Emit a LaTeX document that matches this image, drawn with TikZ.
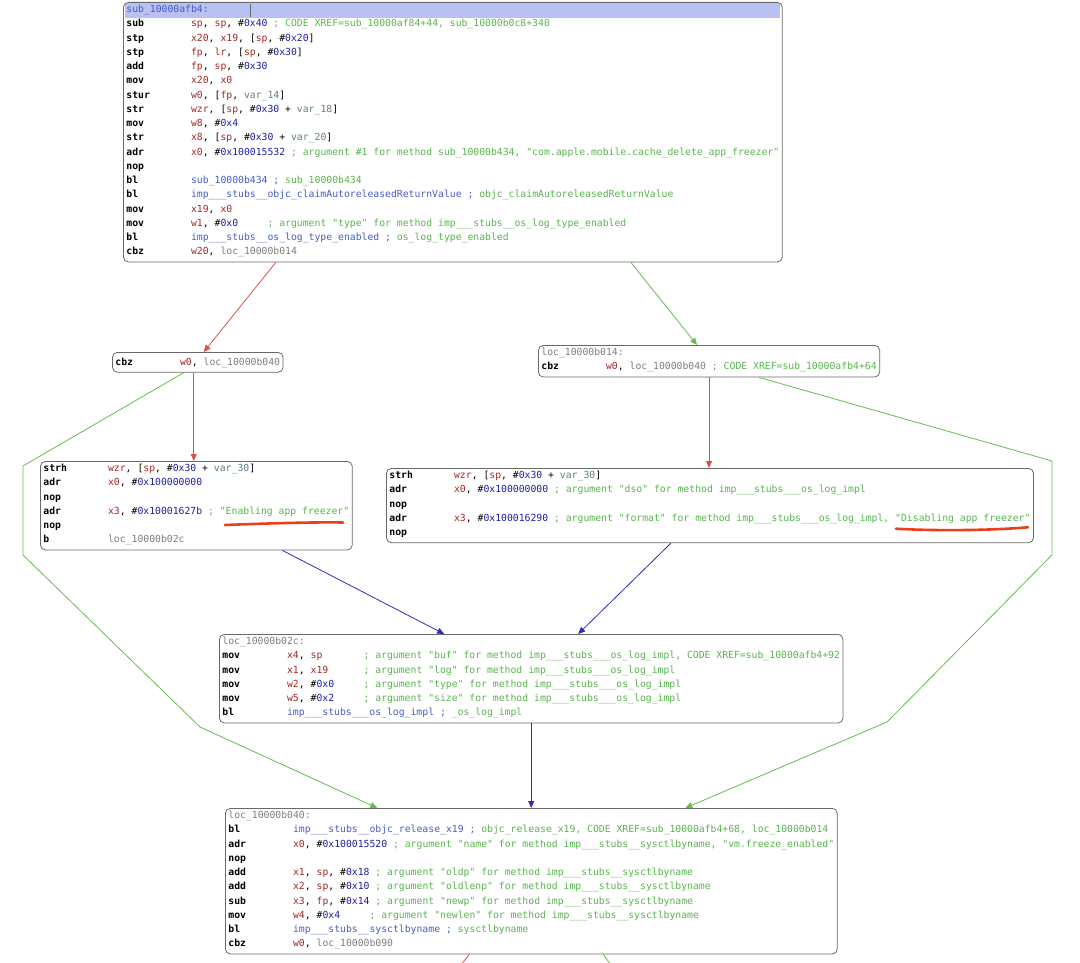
\documentclass[tikz,border=0pt]{standalone}
\usepackage{fontspec}
\setmonofont{DejaVu Sans Mono}
\usetikzlibrary{arrows.meta}

\definecolor{boxgray}{RGB}{105,105,105}
\definecolor{hilite}{RGB}{185,193,242}
\definecolor{regred}{RGB}{165,38,38}
\definecolor{numblue}{RGB}{30,30,165}
\definecolor{fnblue}{RGB}{72,92,200}
\definecolor{cmtgreen}{RGB}{88,180,78}
\definecolor{lblgray}{RGB}{125,125,125}
\definecolor{vargray}{RGB}{95,125,135}
\definecolor{edgered}{RGB}{212,85,70}
\definecolor{edgegreen}{RGB}{100,188,78}
\definecolor{edgeblue}{RGB}{45,45,185}
\definecolor{markred}{RGB}{236,62,28}

\newlength\chw
\setlength\chw{5.882pt}
\newcommand\asmop[1]{\makebox[11\chw][l]{\textbf{#1}}}
\newcommand\asmpad[2]{\makebox[#1\chw][l]{#2}}
\newcommand\asmreg[1]{\textcolor{regred}{#1}}
\newcommand\asmnum[1]{\#\textcolor{numblue}{#1}}
\newcommand\asmvar[1]{\textcolor{vargray}{#1}}
\newcommand\asmcmt[1]{\textcolor{cmtgreen}{\relax#1}}
\newcommand\asmlbl[1]{\textcolor{lblgray}{#1}}
\newcommand\asmfn[1]{\textcolor{fnblue}{#1}}

\begin{document}
\begin{tikzpicture}[x=1pt, y=-1pt,
  every node/.style={font=\ttfamily\fontsize{9.77}{14.25}\selectfont},
  blk/.style={draw=boxgray, line width=0.8pt, rounded corners=5pt, align=left,
    anchor=north west, inner xsep=3pt, inner ysep=2.8pt,
    execute at begin node=\strut, execute at end node=\strut},
  nottaken/.style={draw=edgered, line width=0.8pt, -{Triangle[length=7pt,width=6pt]}},
  taken/.style={draw=edgegreen, line width=0.8pt, -{Triangle[length=7pt,width=6pt]}},
  flow/.style={draw=edgeblue, line width=0.8pt, -{Triangle[length=7pt,width=6pt]}},
  scribble/.style={draw=markred, line width=2.6pt, line cap=round}]

  \useasboundingbox (0,0) rectangle (1080,963);

  % Selected line of the entry block
  \fill[hilite] (124.5,3.2) rectangle (779.5,17.6);
  \draw[boxgray, line width=0.8pt] (250,4) -- (250,17);

  % Entry block
  \node[blk] (subafb4) at (123,2) {%
    \asmfn{sub\_10000afb4:}\\
    \asmop{sub}\asmreg{sp}, \asmreg{sp}, \asmnum{0x40}\asmcmt{ ; CODE XREF=sub\_10000af84+44, sub\_10000b0c8+340}\\
    \asmop{stp}\asmreg{x20}, \asmreg{x19}, [\asmreg{sp}, \asmnum{0x20}]\\
    \asmop{stp}\asmreg{fp}, \asmreg{lr}, [\asmreg{sp}, \asmnum{0x30}]\\
    \asmop{add}\asmreg{fp}, \asmreg{sp}, \asmnum{0x30}\\
    \asmop{mov}\asmreg{x20}, \asmreg{x0}\\
    \asmop{stur}\asmreg{w0}, [\asmreg{fp}, \asmvar{var\_14}]\\
    \asmop{str}\asmreg{wzr}, [\asmreg{sp}, \asmnum{0x30} + \asmvar{var\_18}]\\
    \asmop{mov}\asmreg{w8}, \asmnum{0x4}\\
    \asmop{str}\asmreg{x8}, [\asmreg{sp}, \asmnum{0x30} + \asmvar{var\_20}]\\
    \asmop{adr}\asmreg{x0}, \asmnum{0x100015532}\asmcmt{ ; argument \#1 for method sub\_10000b434, "com.apple.mobile.cache\_delete\_app\_freezer"}\\
    \asmop{nop}\\
    \asmop{bl}\asmfn{sub\_10000b434 ;} \asmcmt{sub\_10000b434}\\
    \asmop{bl}\asmfn{imp\_\_\_stubs\_\_objc\_claimAutoreleasedReturnValue ;} \asmcmt{objc\_claimAutoreleasedReturnValue}\\
    \asmop{mov}\asmreg{x19}, \asmreg{x0}\\
    \asmop{mov}\asmpad{13}{\asmreg{w1}, \asmnum{0x0}}\asmcmt{; argument "type" for method imp\_\_\_stubs\_\_os\_log\_type\_enabled}\\
    \asmop{bl}\asmfn{imp\_\_\_stubs\_\_os\_log\_type\_enabled ;} \asmcmt{os\_log\_type\_enabled}\\
    \asmop{cbz}\asmreg{w20}, \asmlbl{loc\_10000b014}};

  % Second level
  \node[blk] (cbzblk) at (112,352) {%
    \asmop{cbz}\asmreg{w0}, \asmlbl{loc\_10000b040}};
  \node[blk] (loc14) at (538,345) {%
    \asmlbl{loc\_10000b014:}\\
    \asmop{cbz}\asmreg{w0}, \asmlbl{loc\_10000b040}\asmcmt{ ; CODE XREF=sub\_10000afb4+64}};

  % Log message blocks
  \node[blk] (enable) at (40,461) {%
    \asmop{strh}\asmreg{wzr}, [\asmreg{sp}, \asmnum{0x30} + \asmvar{var\_30}]\\
    \asmop{adr}\asmreg{x0}, \asmnum{0x100000000}\\
    \asmop{nop}\\
    \asmop{adr}\asmreg{x3}, \asmnum{0x10001627b}\asmcmt{ ; "Enabling app freezer"}\\
    \asmop{nop}\\
    \asmop{b}\asmlbl{loc\_10000b02c}};
  \node[blk] (disable) at (386,468) {%
    \asmop{strh}\asmreg{wzr}, [\asmreg{sp}, \asmnum{0x30} + \asmvar{var\_30}]\\
    \asmop{adr}\asmreg{x0}, \asmnum{0x100000000}\asmcmt{ ; argument "dso" for method imp\_\_\_stubs\_\_\_os\_log\_impl}\\
    \asmop{nop}\\
    \asmop{adr}\asmreg{x3}, \asmnum{0x100016290}\asmcmt{ ; argument "format" for method imp\_\_\_stubs\_\_\_os\_log\_impl, "Disabling app freezer"}\\
    \asmop{nop}};

  % os_log call
  \node[blk] (loc2c) at (219,634) {%
    \asmlbl{loc\_10000b02c:}\\
    \asmop{mov}\asmpad{13}{\asmreg{x4}, \asmreg{sp}}\asmcmt{; argument "buf" for method imp\_\_\_stubs\_\_\_os\_log\_impl, CODE XREF=sub\_10000afb4+92}\\
    \asmop{mov}\asmpad{13}{\asmreg{x1}, \asmreg{x19}}\asmcmt{; argument "log" for method imp\_\_\_stubs\_\_\_os\_log\_impl}\\
    \asmop{mov}\asmpad{13}{\asmreg{w2}, \asmnum{0x0}}\asmcmt{; argument "type" for method imp\_\_\_stubs\_\_\_os\_log\_impl}\\
    \asmop{mov}\asmpad{13}{\asmreg{w5}, \asmnum{0x2}}\asmcmt{; argument "size" for method imp\_\_\_stubs\_\_\_os\_log\_impl}\\
    \asmop{bl}\asmfn{imp\_\_\_stubs\_\_\_os\_log\_impl ;} \asmcmt{\_os\_log\_impl}};

  % sysctlbyname block
  \node[blk] (loc40) at (225,808) {%
    \asmlbl{loc\_10000b040:}\\
    \asmop{bl}\asmfn{imp\_\_\_stubs\_\_objc\_release\_x19 ;} \asmcmt{objc\_release\_x19, CODE XREF=sub\_10000afb4+68, loc\_10000b014}\\
    \asmop{adr}\asmreg{x0}, \asmnum{0x100015520}\asmcmt{ ; argument "name" for method imp\_\_\_stubs\_\_sysctlbyname, "vm.freeze\_enabled"}\\
    \asmop{nop}\\
    \asmop{add}\asmreg{x1}, \asmreg{sp}, \asmnum{0x18}\asmcmt{ ; argument "oldp" for method imp\_\_\_stubs\_\_sysctlbyname}\\
    \asmop{add}\asmreg{x2}, \asmreg{sp}, \asmnum{0x10}\asmcmt{ ; argument "oldlenp" for method imp\_\_\_stubs\_\_sysctlbyname}\\
    \asmop{sub}\asmreg{x3}, \asmreg{fp}, \asmnum{0x14}\asmcmt{ ; argument "newp" for method imp\_\_\_stubs\_\_sysctlbyname}\\
    \asmop{mov}\asmpad{13}{\asmreg{w4}, \asmnum{0x4}}\asmcmt{; argument "newlen" for method imp\_\_\_stubs\_\_sysctlbyname}\\
    \asmop{bl}\asmfn{imp\_\_\_stubs\_\_sysctlbyname ;} \asmcmt{sysctlbyname}\\
    \asmop{cbz}\asmreg{w0}, \asmlbl{loc\_10000b090}};

  % Branch not taken (red)
  \draw[nottaken] ([xshift=-177pt]subafb4.south) -- ([xshift=6pt]cbzblk.north);
  \draw[nottaken] ([xshift=-4pt]cbzblk.south) -- ([xshift=-4pt]cbzblk.south |- enable.north);
  \draw[nottaken] (loc14.south) -- (loc14.south |- disable.north);

  % Branch taken (green)
  \draw[taken] ([xshift=178pt]subafb4.south) -- ([xshift=-12pt]loc14.north);
  \draw[taken] ([xshift=-14pt]cbzblk.south) -- (23,466) -- (23,555) -- (200,727)
    -- ([xshift=-154pt]loc40.north);
  \draw[taken] ([xshift=50pt]loc14.south) -- (1052,461) -- (1052,555) -- (887,722)
    -- ([xshift=154pt]loc40.north);

  % Unconditional flow (blue)
  \draw[flow] ([xshift=86pt]enable.south) -- ([xshift=-87pt]loc2c.north);
  \draw[flow] ([xshift=-39pt]disable.south) -- ([xshift=47pt]loc2c.north);
  \draw[flow] (loc2c.south) -- (loc2c.south |- loc40.north);

  % Edges leaving the last block
  \coordinate (exitred) at (456,971);
  \coordinate (exitgreen) at (615,971);
  \draw[edgered, line width=0.8pt] ([xshift=-62pt]loc40.south) -- (exitred);
  \draw[edgegreen, line width=0.8pt] ([xshift=72pt]loc40.south) -- (exitgreen);

  % Hand-drawn underlines
  \draw[scribble] (225,525) .. controls (265,523.5) and (310,522) .. (343,522.5);
  \draw[scribble] (896,528.7) .. controls (935,531) and (990,530.5) .. (1028,527.3);

\end{tikzpicture}
\end{document}
